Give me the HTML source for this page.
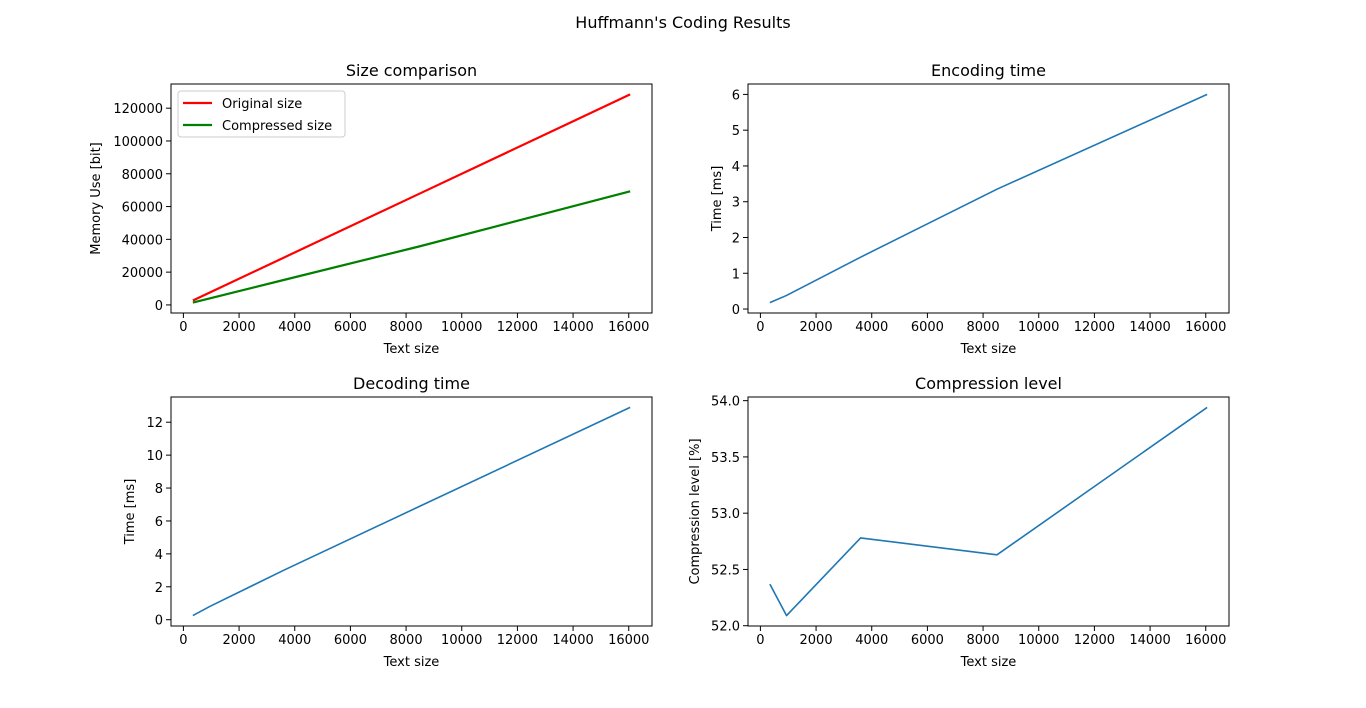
<!DOCTYPE html>
<html><head><meta charset="utf-8"><style>
body{margin:0;background:#fff}
svg text{font-family:"DejaVu Sans","Liberation Sans",sans-serif;fill:#000}
</style></head><body>
<svg id="fig" width="1366" height="703" xmlns="http://www.w3.org/2000/svg">
<text x="683" y="28" font-size="16" text-anchor="middle">Huffmann's Coding Results</text>
</svg>
<script>
const textSizes = [340, 940, 3600, 8500, 16050];
const originalSize = [2720, 7520, 28800, 68000, 128400];
const compressedSize = [1424, 3935, 15200, 35790, 69260];
const encodingTime = [0.18, 0.38, 1.45, 3.35, 6.0];
const decodingTime = [0.25, 0.8, 3.0, 6.9, 12.9];
const compressionLevel = [52.37, 52.09, 52.78, 52.63, 53.94];
const xTicks = [0,2000,4000,6000,8000,10000,12000,14000,16000];
const sizeTicks = [0,20000,40000,60000,80000,100000,120000];
const encTicks = [0,1,2,3,4,5,6];
const decTicks = [0,2,4,6,8,10,12];
const compTicks = ["52.0","52.5","53.0","53.5","54.0"];

const NS="http://www.w3.org/2000/svg";
const svg=document.getElementById('fig');
function mk(tag,attrs,parent){const e=document.createElementNS(NS,tag);for(const k in attrs)e.setAttribute(k,attrs[k]);(parent||svg).appendChild(e);return e;}
function lim(arrs){let mn=Infinity,mx=-Infinity;arrs.forEach(a=>a.forEach(v=>{mn=Math.min(mn,v);mx=Math.max(mx,v);}));const m=(mx-mn)*0.05;return [mn-m,mx+m];}

function panel(name,L,T,W,H,title,ylabel,series,yticks,ylabX){
  const g=mk('g',{});
  
  
  const [x0,x1]=lim([textSizes]);
  const [y0,y1]=lim(series.map(s=>s.data));
  const sx=v=>L+(v-x0)/(x1-x0)*W;
  const sy=v=>T+H-(v-y0)/(y1-y0)*H;
  series.forEach(s=>{
    const p=mk('polyline',{points:textSizes.map((x,i)=>sx(x)+','+sy(s.data[i])).join(' '),fill:'none',stroke:s.color,'stroke-width':s.w,'stroke-linejoin':'round'},g);
    
    
  });
  const fr=mk('rect',{x:L,y:T,width:W,height:H,fill:'none',stroke:'#000','stroke-width':1},g);
  
  
  xTicks.forEach(t=>{const x=sx(t);mk('line',{x1:x,y1:T+H,x2:x,y2:T+H+5,stroke:'#000'},g);
    const tx=mk('text',{x:x,y:T+H+18,'font-size':13,'text-anchor':'middle'},g);tx.textContent=t;
    });
  yticks.forEach(t=>{const y=sy(parseFloat(t));mk('line',{x1:L-5,y1:y,x2:L,y2:y,stroke:'#000'},g);
    const tx=mk('text',{x:L-8,y:y+5,'font-size':13,'text-anchor':'end'},g);tx.textContent=t;
    });
  const ti=mk('text',{x:L+W/2,y:T-8,'font-size':16,'text-anchor':'middle'},g);ti.textContent=title;
  
  const xl=mk('text',{x:L+W/2,y:T+H+40,'font-size':13,'text-anchor':'middle'},g);xl.textContent='Text size';
  
  const yl=mk('text',{x:0,y:0,'font-size':13,'text-anchor':'middle',transform:`translate(${ylabX},${T+H/2}) rotate(-90)`},g);yl.textContent=ylabel;
  
  return g;
}
panel('size-comparison-panel',171,84,481,229,'Size comparison','Memory Use [bit]',
  [{name:'original-size-line',data:originalSize,color:'#ff0000',w:2.2},{name:'compressed-size-line',data:compressedSize,color:'#008000',w:2.2}],sizeTicks,100);
panel('encoding-time-panel',748,84,481,229,'Encoding time','Time [ms]',
  [{name:'encoding-time-line',data:encodingTime,color:'#1f77b4',w:1.6}],encTicks,721);
panel('decoding-time-panel',171,397,481,229,'Decoding time','Time [ms]',
  [{name:'decoding-time-line',data:decodingTime,color:'#1f77b4',w:1.6}],decTicks,134);
panel('compression-level-panel',748,397,481,229,'Compression level','Compression level [%]',
  [{name:'compression-level-line',data:compressionLevel,color:'#1f77b4',w:1.6}],compTicks,699);

const lg=mk('g',{});


mk('rect',{x:178,y:91,width:167,height:46,rx:3,fill:'#fff','fill-opacity':0.8,stroke:'#ccc'},lg);
[['Original size','#ff0000',103],['Compressed size','#008000',125]].forEach(([n,c,y])=>{
  const e=mk('g',{},lg);
  
  
  mk('line',{x1:183,y1:y,x2:212,y2:y,stroke:c,'stroke-width':2.2},e);
  const t=mk('text',{x:222,y:y+5,'font-size':13},e);t.textContent=n;
});
</script>
</body></html>
